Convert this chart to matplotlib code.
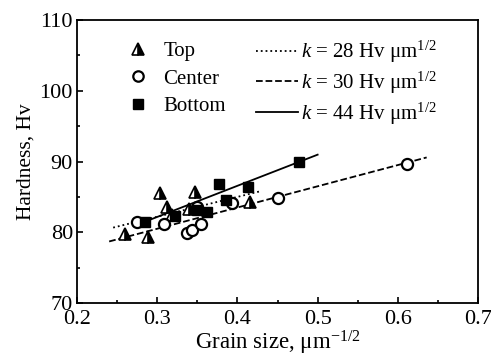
import numpy as np
import matplotlib.pyplot as plt
from matplotlib.lines import Line2D

plt.rcParams['font.family'] = ['Liberation Serif', 'DejaVu Serif']
plt.rcParams['mathtext.fontset'] = 'custom'
plt.rcParams['mathtext.rm'] = 'Liberation Serif'
plt.rcParams['mathtext.it'] = 'Liberation Serif:italic'

# measured points (grain size um^-1/2, hardness Hv)
top_x = [0.260, 0.288, 0.303, 0.312, 0.318, 0.340, 0.347, 0.416]
top_y = [79.7, 79.4, 85.6, 83.6, 82.5, 83.3, 85.7, 84.3]
center_x = [0.275, 0.308, 0.337, 0.343, 0.349, 0.355, 0.393, 0.451, 0.612]
center_y = [81.4, 81.2, 79.9, 80.3, 83.6, 81.1, 84.2, 84.8, 89.7]
bottom_x = [0.285, 0.322, 0.350, 0.362, 0.377, 0.386, 0.413, 0.477]
bottom_y = [81.4, 82.3, 83.2, 82.9, 86.8, 84.6, 86.4, 89.9]

# Hall-Petch fits: slope k, intercept, x range
fit_k = [28, 30, 44]
fit_b = [73.8, 71.5, 68.97]
fit_x0 = [0.245, 0.240, 0.280]
fit_x1 = [0.430, 0.636, 0.500]
fit_ls = [':', '--', '-']

fig = plt.figure(figsize=(4.91, 3.58), dpi=100)
ax = fig.add_axes([0.157, 0.1536, 0.8165, 0.7904])

for k, b, x0, x1, ls in zip(fit_k, fit_b, fit_x0, fit_x1, fit_ls):
    xx = np.array([x0, x1])
    ax.plot(xx, b + k * xx, ls=ls, color='black', lw=1.3)

ax.plot(top_x, top_y, ls='none', marker='^', ms=9, fillstyle='right',
        markerfacecolor='black', markerfacecoloralt='white', mec='black', mew=1.2)
ax.plot(center_x, center_y, ls='none', marker='o', ms=8, mfc='white', mec='black', mew=1.6)
ax.plot(bottom_x, bottom_y, ls='none', marker='s', ms=7.5, mfc='black', mec='black')

ax.set_xlim(0.2, 0.7)
ax.set_ylim(70, 110)
ax.set_xticks(np.arange(0.2, 0.71, 0.1))
ax.set_xticks(np.arange(0.25, 0.7, 0.1), minor=True)
ax.set_yticks(np.arange(70, 111, 10))
ax.set_yticks(np.arange(75, 110, 10), minor=True)
ax.tick_params(direction='in', labelsize=16, length=4, width=1.2, pad=3)
ax.tick_params(axis='x', pad=5)
ax.tick_params(which='minor', direction='in', length=2.5, width=1.2)
for s in ax.spines.values():
    s.set_linewidth(1.3)

ax.set_xlabel('Grain size, μm$^{-1/2}$', fontsize=16.5, labelpad=0)
ax.set_ylabel('Hardness, Hv', fontsize=15.5, labelpad=3)

mk_handles = [
    Line2D([], [], ls='none', marker='^', ms=8.5, fillstyle='right', markerfacecolor='black',
           markerfacecoloralt='white', mec='black', mew=1.2),
    Line2D([], [], ls='none', marker='o', ms=7.5, mfc='white', mec='black', mew=1.6),
    Line2D([], [], ls='none', marker='s', ms=7, mfc='black', mec='black'),
]
leg1 = ax.legend(mk_handles, ['Top', 'Center', 'Bottom'], loc='upper left',
                 bbox_to_anchor=(0.08, 0.99), frameon=False, fontsize=15,
                 handlelength=1.0, handletextpad=0.7, labelspacing=0.38)
ax.add_artist(leg1)

ln_handles = [Line2D([], [], ls=ls, color='black', lw=1.3) for ls in fit_ls]
ln_labels = ['$k$ = %d Hv μm$^{1/2}$' % k for k in fit_k]
ax.legend(ln_handles, ln_labels, loc='upper left', bbox_to_anchor=(0.40, 1.0),
          frameon=False, fontsize=15, handlelength=2.0, handletextpad=0.15, labelspacing=0.22)

fig.savefig('out.png', dpi=100)
